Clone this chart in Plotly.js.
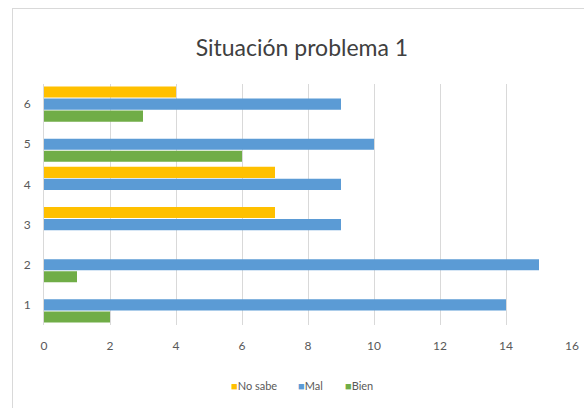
<!DOCTYPE html>
<html><head><meta charset="utf-8">
<script src="https://cdn.plot.ly/plotly-3.0.1.min.js"></script>
<style>
html,body{margin:0;padding:0;background:#fff;}
#frame{position:absolute;left:12px;top:8px;width:580px;height:408px;border:1px solid #d9d9d9;box-sizing:border-box;}
#chart{position:absolute;left:0;top:0;width:584px;height:408px;}
</style></head>
<body>
<div id="frame"></div>
<div id="chart"></div>
<script>
const categories = ['1','2','3','4','5','6'];
const bien = [2, 1, 0, 0, 6, 3];
const mal = [14, 15, 9, 9, 10, 9];
const noSabe = [0, 0, 7, 7, 0, 4];
const seriesNames = ['Bien', 'Mal', 'No sabe'];
const xTicks = [0,2,4,6,8,10,12,14,16];

const colors = ['#70AD47', '#5B9BD5', '#FFC000'];
const vals = [bien, mal, noSabe];
const traces = vals.map((v, i) => ({
  type: 'bar', orientation: 'h', name: seriesNames[i],
  y: categories, x: v, marker: {color: colors[i]}, showlegend: false
}));

// legend built as text entries, in reference order (No sabe, Mal, Bien)
const legendX = [0.566, 0.477, 0.350];
const legendAnn = [2, 1, 0].map(i => ({
  text: '<span style="color:' + colors[i] + '">■</span>' + seriesNames[i],
  xref: 'paper', yref: 'paper', x: legendX[i], y: -0.25,
  xanchor: 'left', yanchor: 'middle', showarrow: false,
  font: {size: 11, color: '#595959'}
}));

const layout = {
  width: 584, height: 408,
  paper_bgcolor: 'rgba(0,0,0,0)', plot_bgcolor: 'rgba(0,0,0,0)',
  margin: {l: 44, r: 12, t: 84, b: 83},
  font: {family: 'Lato, "Open Sans", sans-serif', color: '#595959', size: 12},
  title: {text: 'Situación problema 1', font: {size: 23, color: '#404040'},
          x: 0.517, xref: 'container', xanchor: 'center', y: 1 - 48/408, yref: 'container', yanchor: 'middle'},
  barmode: 'group', bargap: 0.1, bargroupgap: 0.08,
  xaxis: {range: [0, 16], tickvals: xTicks, showgrid: true, gridcolor: '#d9d9d9', zeroline: false,
          showline: false, ticks: '', ticklabelstandoff: 12, tickfont: {size: 12, color: '#595959'}},
  yaxis: {type: 'category', showgrid: false, showline: true, linecolor: '#d9d9d9', ticks: '',
          ticklabelstandoff: 10, tickfont: {size: 12, color: '#595959'}},
  annotations: legendAnn,
  showlegend: false
};
Plotly.newPlot('chart', traces, layout, {displayModeBar: false});
</script>
</body></html>
